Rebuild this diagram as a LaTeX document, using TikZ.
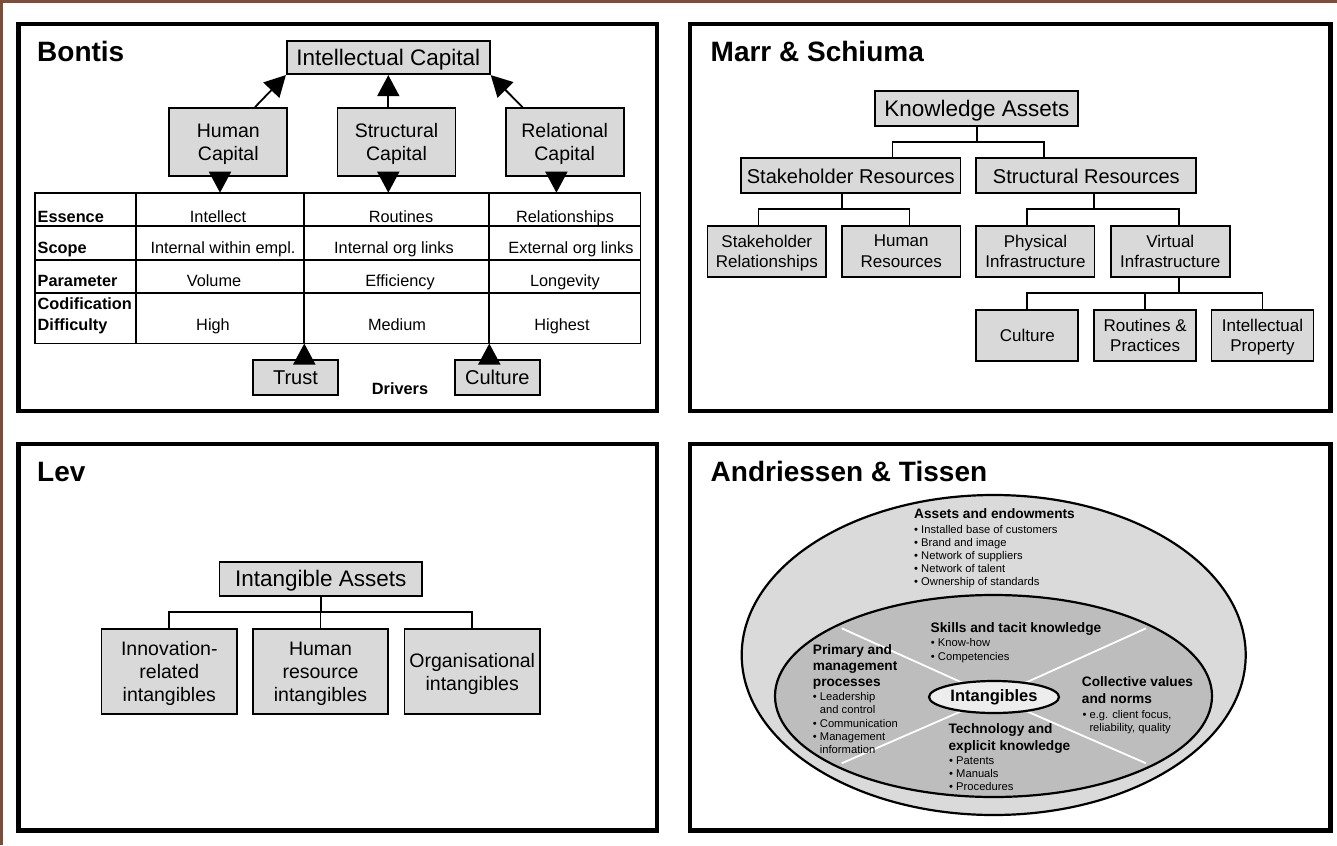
\documentclass[tikz,border=0pt]{standalone}
\usepackage{fontspec}
\setmainfont{Liberation Sans}
\usetikzlibrary{arrows.meta,shapes.geometric}
\definecolor{boxgray}{HTML}{D9D9D9}
\definecolor{outergray}{HTML}{DADADA}
\definecolor{innergray}{HTML}{BDBDBD}
\definecolor{intgray}{HTML}{EDEDED}
\definecolor{framebrown}{HTML}{7A4E3D}
\newcommand\myfs[2]{\fontsize{#1}{#2}\selectfont}
\begin{document}
\begin{tikzpicture}[x=1pt,y=-1pt,
  panel/.style={draw=black,line width=4.5pt},
  gbox/.style={draw=black,fill=boxgray,line width=1.8pt,inner sep=0pt,align=center,text depth=0pt},
  conn/.style={draw=black,line width=1.8pt},
  tline/.style={draw=black,line width=1.8pt},
  bigarrow/.style={draw=black,line width=1.8pt,-{Triangle[length=21pt,width=22pt]}},
  ptitle/.style={font=\myfs{28}{32}\bfseries,anchor=base west,inner sep=0pt},
  rowlab/.style={font=\myfs{16.3}{19}\bfseries,anchor=base west,inner sep=0pt},
  cell/.style={font=\myfs{16.3}{19},anchor=base,inner sep=0pt},
  ahd/.style={font=\myfs{13.7}{16}\bfseries,anchor=base west,inner sep=0pt},
  atx/.style={font=\myfs{11.2}{13}\selectfont,anchor=base west,inner sep=0pt},
  wline/.style={draw=white,line width=1.8pt}]
\useasboundingbox (0,0) rectangle (1337,845);
\fill[white] (0,0) rectangle (1337,845);
% brown frame (top and left)
\fill[framebrown] (0,0) rectangle (1337,3);
\fill[framebrown] (0,0) rectangle (3,845);
% panels
\draw[panel] (18.5,24) rectangle (657,411);
\draw[panel] (690,24) rectangle (1330.5,411);
\draw[panel] (18.5,444) rectangle (657,830.5);
\draw[panel] (690,444) rectangle (1330.5,830.5);
% titles
\node[ptitle] (tb) at (37,61.7) {Bontis};
\node[ptitle] (tm) at (710.5,61.7) {Marr \& Schiuma};
\node[ptitle] (tl) at (37,481.7) {Lev};
\node[ptitle] (ta) at (710.5,481.7) {Andriessen \& Tissen};

% ---------------- Bontis ----------------
\node[gbox,font=\myfs{22.5}{26},minimum width=203pt,minimum height=33pt] (ic) at (388.3,57.7) {Intellectual Capital};
\node[gbox,font=\myfs{19.5}{23},minimum width=118pt,minimum height=68pt] (hc) at (228.3,142) {Human\\Capital};
\node[gbox,font=\myfs{19.5}{23},minimum width=118pt,minimum height=68pt] (sc) at (396.5,142) {Structural\\Capital};
\node[gbox,font=\myfs{19.5}{23},minimum width=118pt,minimum height=68pt] (rc) at (564.7,142) {Relational\\Capital};
\draw[bigarrow] ([xshift=26.7pt]hc.north) -- (ic.south west);
\draw[bigarrow] (ic.south |- sc.north) -- (ic.south);
\draw[bigarrow] ([xshift=-42.2pt]rc.north) -- (ic.south east);
% table
\draw[tline] (35,192.7) rectangle (640.5,343.5);
\draw[tline] (35,226) -- (640.5,226);
\draw[tline] (35,260) -- (640.5,260);
\draw[tline] (35,293) -- (640.5,293);
\draw[tline] (135.7,192.7) -- (135.7,343.5);
\draw[tline] (304.3,192.7) -- (304.3,343.5);
\draw[tline] (489.3,192.7) -- (489.3,343.5);
\coordinate (tt1) at (220,192.7);
\coordinate (tt2) at (388.3,192.7);
\coordinate (tt3) at (556.4,192.7);
\coordinate (tb2) at (304.3,343.5);
\coordinate (tb3) at (489.3,343.5);
\draw[bigarrow] (hc.south -| tt1) -- (tt1);
\draw[bigarrow] (sc.south -| tt2) -- (tt2);
\draw[bigarrow] (rc.south -| tt3) -- (tt3);
\node[rowlab] (l1) at (37.5,222) {Essence};
\node[rowlab] (l2) at (37.5,253) {Scope};
\node[rowlab] (l3) at (37.5,286) {Parameter};
\node[rowlab] (l4) at (37.5,309.3) {Codification};
\node[rowlab] (l5) at (37.5,330) {Difficulty};
\node[cell] (v11) at (218,222) {Intellect};
\node[cell] (v12) at (401,222) {Routines};
\node[cell] (v13) at (565,222) {Relationships};
\node[cell] (v21) at (223,253) {Internal within empl.};
\node[cell] (v22) at (394,253) {Internal org links};
\node[cell] (v23) at (571,253) {External org links};
\node[cell] (v31) at (214,286) {Volume};
\node[cell] (v32) at (400,286) {Efficiency};
\node[cell] (v33) at (565,286) {Longevity};
\node[cell] (v41) at (213,330) {High};
\node[cell] (v42) at (397,330) {Medium};
\node[cell] (v43) at (562,330) {Highest};
\node[gbox,font=\myfs{20}{24},minimum width=85pt,minimum height=35pt] (trust) at (295.5,377.5) {Trust};
\node[gbox,font=\myfs{20}{24},minimum width=85pt,minimum height=35pt] (cult0) at (497.3,377.5) {Culture};
\draw[bigarrow] (trust.north -| tb2) -- (tb2);
\draw[bigarrow] (cult0.north -| tb3) -- (tb3);
\node[font=\myfs{16.3}{19}\bfseries,anchor=base,inner sep=0pt] (drv) at (400,394) {Drivers};

% ---------------- Marr & Schiuma ----------------
\node[gbox,font=\myfs{22.5}{26},minimum width=203pt,minimum height=35pt] (ka) at (976.8,108.3) {Knowledge Assets};
\node[gbox,font=\myfs{20}{24},minimum width=219.5pt,minimum height=35pt] (shr) at (850.8,175.8) {Stakeholder Resources};
\node[gbox,font=\myfs{20}{24},minimum width=220pt,minimum height=35pt] (str) at (1086.3,175.8) {Structural Resources};
\node[gbox,font=\myfs{17}{20.5},minimum width=118.7pt,minimum height=51pt] (srel) at (766.8,251.2) {Stakeholder\\Relationships};
\node[gbox,font=\myfs{17}{20.5},minimum width=118.7pt,minimum height=51pt] (hres) at (901.2,251.2) {Human\\Resources};
\node[gbox,font=\myfs{17}{20.5},minimum width=118.2pt,minimum height=51pt] (phys) at (1035.4,251.2) {Physical\\Infrastructure};
\node[gbox,font=\myfs{17}{20.5},minimum width=119pt,minimum height=51pt] (virt) at (1170.3,251.2) {Virtual\\Infrastructure};
\node[gbox,font=\myfs{17}{20.5},minimum width=102pt,minimum height=51pt] (cult) at (1027.3,335.5) {Culture};
\node[gbox,font=\myfs{17}{20.5},minimum width=102pt,minimum height=51pt] (rout) at (1145.1,335.5) {Routines \&\\Practices};
\node[gbox,font=\myfs{17}{20.5},minimum width=102pt,minimum height=51pt] (ipr) at (1262.5,335.5) {Intellectual\\Property};
\coordinate (m1) at (976.8,141.7);
\draw[conn] (ka.south) -- (m1);
\draw[conn] (m1) -| ([xshift=41.7pt]shr.north);
\draw[conn] (m1) -| ([xshift=-42pt]str.north);
\coordinate (m2) at (842.3,209);
\draw[conn] (shr.south -| m2) -- (m2);
\draw[conn] (m2) -| ([xshift=-8.3pt]srel.north);
\draw[conn] (m2) -| ([xshift=8.3pt]hres.north);
\coordinate (m3) at (1094,209);
\draw[conn] (str.south -| m3) -- (m3);
\draw[conn] (m3) -| ([xshift=-8.1pt]phys.north);
\draw[conn] (m3) -| ([xshift=8.4pt]virt.north);
\coordinate (m4) at (1178.7,293.3);
\draw[conn] (virt.south -| m4) -- (m4);
\draw[conn] (m4) -| (cult.north);
\draw[conn] (m4) -| (ipr.north);
\draw[conn] (m4 -| rout.north) -- (rout.north);

% ---------------- Lev ----------------
\node[gbox,font=\myfs{22.5}{26},minimum width=202.6pt,minimum height=34.3pt] (ia) at (320.7,578.8) {Intangible Assets};
\node[gbox,font=\myfs{19.5}{23},minimum width=135.7pt,minimum height=84.7pt] (inn) at (169.3,671.6) {Innovation-\\related\\intangibles};
\node[gbox,font=\myfs{19.5}{23},minimum width=135.3pt,minimum height=84.7pt] (hr) at (320.5,671.6) {Human\\resource\\intangibles};
\node[gbox,font=\myfs{19.5}{23},minimum width=135.3pt,minimum height=84.7pt] (org) at (472.2,671.6) {Organisational\\intangibles};
\coordinate (lb) at (320.7,612.3);
\draw[conn] (ia.south) -- (lb);
\draw[conn] (lb) -| (inn.north);
\draw[conn] (lb) -| (org.north);
\draw[conn] (lb -| hr.north) -- (hr.north);

% ---------------- Andriessen & Tissen ----------------
\node[ellipse,draw=black,fill=outergray,line width=2.2pt,minimum width=504pt,minimum height=320pt,inner sep=0pt] (outer) at (993.7,655) {};
\node[ellipse,draw=black,fill=innergray,line width=2.2pt,minimum width=437pt,minimum height=202pt,inner sep=0pt] (inner) at (993.5,696) {};
\node[ellipse,inner sep=0pt,minimum width=130pt,minimum height=32pt] (intc) at (994,697) {};
\coordinate (w1) at (841.7,628.3);
\coordinate (w2) at (1146,628.3);
\coordinate (w3) at (841.7,763.3);
\coordinate (w4) at (1146,763.3);
\draw[wline] (w1) -- (intc);
\draw[wline] (w2) -- (intc);
\draw[wline] (w3) -- (intc);
\draw[wline] (w4) -- (intc);
\node[ellipse,draw=black,fill=intgray,line width=2.2pt,minimum width=130pt,minimum height=32pt,inner sep=0pt,font=\myfs{16.5}{19}\bfseries] (int) at (994,697) {Intangibles};
% assets
\node[ahd] (a0) at (914,518.4) {Assets and endowments};
\node[atx] (a1) at (914,533.1) {• Installed base of customers};
\node[atx] (a2) at (914,546.4) {• Brand and image};
\node[atx] (a3) at (914,559.8) {• Network of suppliers};
\node[atx] (a4) at (914,572.8) {• Network of talent};
\node[atx] (a5) at (914,585.8) {• Ownership of standards};
% skills
\node[ahd] (s0) at (930.5,632.8) {Skills and tacit knowledge};
\node[atx] (s1) at (930.7,646.8) {• Know-how};
\node[atx] (s2) at (930.7,660.1) {• Competencies};
% primary
\node[ahd] (p0) at (812.7,654.4) {Primary and};
\node[ahd] (p1) at (812.7,670.4) {management};
\node[ahd] (p2) at (812.7,686.8) {processes};
\node[atx] (p3) at (812.7,700.8) {• Leadership};
\node[atx] (p4) at (819.7,713.4) {and control};
\node[atx] (p5) at (812.7,727.4) {• Communication};
\node[atx] (p6) at (812.7,740.1) {• Management};
\node[atx] (p7) at (819.7,753.4) {information};
% collective
\node[ahd] (c0) at (1081.7,686.8) {Collective values};
\node[ahd] (c1) at (1081.7,703.4) {and norms};
\node[atx] (c2) at (1082.3,718.4) {• e.g. client focus,};
\node[atx] (c3) at (1089.3,731.4) {reliability, quality};
% technology
\node[ahd] (t0) at (948.3,733.4) {Technology and};
\node[ahd] (t1) at (948.3,750.1) {explicit knowledge};
\node[atx] (t2) at (949,764.1) {• Patents};
\node[atx] (t3) at (949,777.4) {• Manuals};
\node[atx] (t4) at (949,790.8) {• Procedures};
\end{tikzpicture}
\end{document}
